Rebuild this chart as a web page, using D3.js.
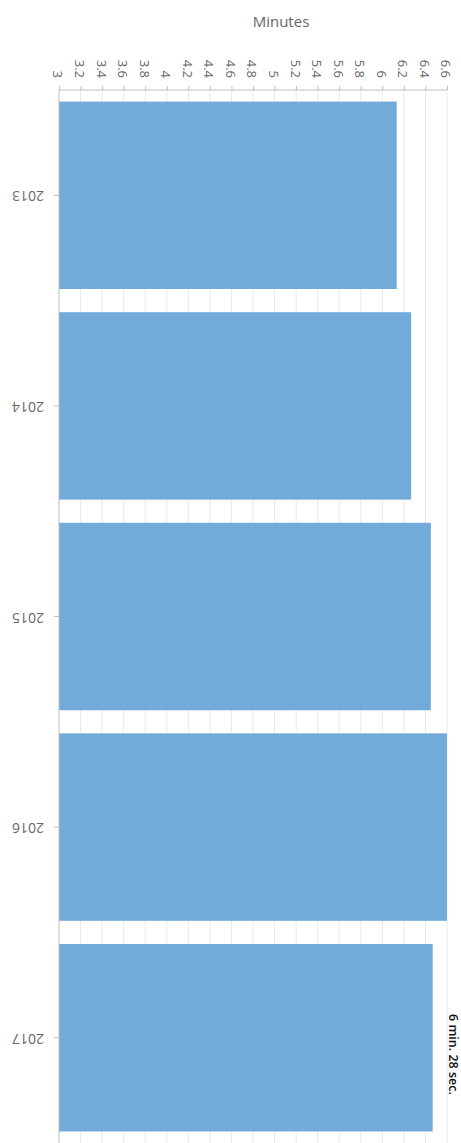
<!DOCTYPE html>
<html>
<head>
<meta charset="utf-8">
<script src="https://cdn.jsdelivr.net/npm/d3@7"></script>
<style>
  html, body { margin: 0; padding: 0; background: #fff; }
  svg { display: block; }
  text { font-family: "Open Sans", "Noto Sans", sans-serif; }
</style>
</head>
<body>
<svg id="chart" width="461" height="1143"></svg>
<script>
const years = ["2013", "2014", "2015", "2016", "2017"];
const minutes = [6.133, 6.267, 6.45, 6.6, 6.467];
const tickValues = [3, 3.2, 3.4, 3.6, 3.8, 4, 4.2, 4.4, 4.6, 4.8, 5, 5.2, 5.4, 5.6, 5.8, 6, 6.2, 6.4, 6.6];
const tickLabels = ["3", "3.2", "3.4", "3.6", "3.8", "4", "4.2", "4.4", "4.6", "4.8", "5", "5.2", "5.4", "5.6", "5.8", "6", "6.2", "6.4", "6.6"];
const axisTitle = "Minutes";
const annotation = "6 min. 28 sec.";
const annotatedYear = "2017";

const svg = d3.select("#chart");
const x = d3.scaleLinear().domain([3, 6.6]).range([59, 447]);
const y = d3.scaleBand().domain(years).range([90, 1143]).paddingInner(0.11).paddingOuter(0.055);
const plotTop = 90, plotBottom = 1143;

// gridlines
svg.append("g").selectAll("line").data(tickValues.slice(1)).join("line")
  .attr("x1", d => x(d)).attr("x2", d => x(d))
  .attr("y1", plotTop).attr("y2", plotBottom)
  .attr("stroke", "#e9e9e9").attr("stroke-width", 1);

// bars
svg.append("g").selectAll("rect").data(years).join("rect")
  .attr("x", x(3))
  .attr("y", d => y(d))
  .attr("width", (d, i) => x(minutes[i]) - x(3))
  .attr("height", y.bandwidth())
  .attr("fill", "#72aad9");

// top value axis
const axisTop = d3.axisTop(x).tickValues(tickValues).tickSize(4).tickFormat((d, i) => tickLabels[i]);
const gx = svg.append("g").attr("transform", `translate(0,${plotTop})`).call(axisTop);
gx.select(".domain").attr("stroke", "#bfbfbf").attr("d", `M${x(3)},0H${x(6.6)}`);
gx.selectAll(".tick line").attr("stroke", "#bfbfbf");
gx.selectAll(".tick text")
  .attr("fill", "#666666")
  .attr("font-size", 13)
  .attr("text-anchor", "end")
  .attr("y", 0)
  .attr("dy", "0.35em")
  .attr("transform", "translate(-1.5,-12) rotate(90)");

// left category axis
const axisLeft = d3.axisLeft(y).tickSize(5).tickPadding(0).tickFormat(d => d);
const gy = svg.append("g").attr("transform", `translate(${x(3)},0)`).call(axisLeft);
gy.select(".domain").attr("stroke", "#bfbfbf").attr("d", `M0,${plotTop}V${plotBottom}`);
gy.selectAll(".tick line").attr("stroke", "#bfbfbf");
gy.selectAll(".tick text")
  .attr("fill", "#666666")
  .attr("font-size", 14)
  .attr("text-anchor", "middle")
  .attr("x", 0)
  .attr("dy", "0.35em")
  .attr("transform", "translate(-31,1) rotate(180)");

// axis title
svg.append("text")
  .attr("x", 281).attr("y", 27)
  .attr("text-anchor", "middle")
  .attr("font-size", 15)
  .attr("fill", "#666666")
  .text(axisTitle);

// annotation
svg.append("text")
  .attr("transform", `translate(449,${y(annotatedYear) + 70}) rotate(90)`)
  .attr("text-anchor", "start")
  .attr("font-size", 12.5)
  .attr("font-weight", 600)
  .attr("fill", "#111111")
  .text(annotation);
</script>
</body>
</html>
